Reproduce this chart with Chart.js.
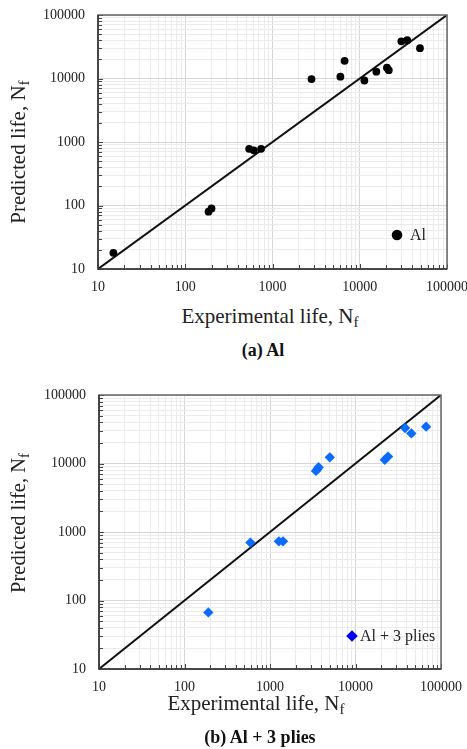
<!DOCTYPE html>
<html>
<head>
<meta charset="utf-8">
<script src="https://cdn.jsdelivr.net/npm/chart.js@4.4.1/dist/chart.umd.min.js"></script>
<style>
  body { margin: 0; background: #fff; }
  #wrap { position: relative; width: 467px; height: 749px; font-family: 'Liberation Serif', 'Times New Roman', serif; color: #222; }
  canvas { position: absolute; left: 0; }
  .lbl { position: absolute; white-space: nowrap; transform: translate(-50%, -50%); line-height: 1; }
  .lbl sub { font-size: 0.72em; vertical-align: -0.25em; }
  .rot { transform: translate(-50%, -50%) rotate(-90deg); }
  .cap { font-weight: bold; font-size: 18px; color: #111; }
</style>
</head>
<body>
<div id="wrap">
  <canvas id="chartA" width="467" height="300" style="top:0"></canvas>
  <canvas id="chartB" width="467" height="330" style="top:380px"></canvas>

  <div class="lbl rot" style="left:20px; top:152px; font-size:21px">Predicted life, N<sub>f</sub></div>
  <div class="lbl" style="left:270px; top:318px; font-size:21px">Experimental life, N<sub>f</sub></div>
  <div class="lbl cap" style="left:263px; top:350px">(a) Al</div>

  <div class="lbl rot" style="left:20px; top:523px; font-size:20.5px">Predicted life, N<sub>f</sub></div>
  <div class="lbl" style="left:256px; top:705px; font-size:21px">Experimental life, N<sub>f</sub></div>
  <div class="lbl cap" style="left:260px; top:737px">(b) Al + 3 plies</div>
</div>

<script>
// axis ticks (both axes, both plots)
const decades = [10, 100, 1000, 10000, 100000]
const tickLabels = ['10', '100', '1000', '10000', '100000']
const minorSteps = [2, 3, 4, 5, 6, 7, 8, 9]

// (a) Al
const expA = [15, 185, 200, 540, 610, 740, 2800, 6000, 6700, 11300, 15500, 20500, 21500, 30000, 35000, 49000]
const predA = [18, 80, 90, 780, 740, 780, 9800, 10700, 19000, 9300, 12800, 14800, 13500, 38500, 40000, 30000]

// (b) Al + 3 plies
const expB = [190, 590, 1270, 1420, 3450, 3600, 3700, 5000, 22000, 24000, 38000, 45000, 67000]
const predB = [67, 700, 730, 730, 7800, 8300, 8800, 12300, 11300, 12600, 33000, 27500, 34500]

// 1:1 reference line
const lineX = [10, 100000]

const gridValues = []
decades.forEach((d, i) => {
    gridValues.push(d)
    if (i < decades.length - 1) minorSteps.forEach(k => gridValues.push(d * k))
})

const serif = 'Liberation Serif'

// frame, inward tick marks and the in-plot legend
const framePlugin = {
    id: 'frame',
    afterDraw(chart, args, opts) {
        const { ctx, chartArea: a, scales } = chart
        ctx.save()
        ctx.strokeStyle = '#444'
        ctx.lineWidth = 1
        ctx.beginPath()
        gridValues.forEach(v => {
            const len = decades.includes(v) ? 5 : 4
            const x = Math.round(scales.x.getPixelForValue(v)) + 0.5
            ctx.moveTo(x, a.bottom)
            ctx.lineTo(x, a.bottom - len)
            const y = Math.round(scales.y.getPixelForValue(v)) + 0.5
            ctx.moveTo(a.left, y)
            ctx.lineTo(a.left + len, y)
        })
        ctx.stroke()

        ctx.strokeStyle = '#666'
        ctx.lineWidth = 1.5
        ctx.strokeRect(a.left, a.top, a.right - a.left, a.bottom - a.top)
        ctx.strokeStyle = '#333'
        ctx.beginPath()
        ctx.moveTo(a.left, a.top)
        ctx.lineTo(a.left, a.bottom)
        ctx.lineTo(a.right, a.bottom)
        ctx.stroke()

        // legend entry
        const ds = chart.data.datasets[0]
        const mx = a.right - opts.dx
        const my = a.bottom - opts.dy
        const r = opts.size
        ctx.fillStyle = opts.markerColor
        ctx.beginPath()
        if (ds.pointStyle === 'rectRot') {
            ctx.moveTo(mx, my - r)
            ctx.lineTo(mx + r, my)
            ctx.lineTo(mx, my + r)
            ctx.lineTo(mx - r, my)
            ctx.closePath()
        } else {
            ctx.arc(mx, my, r, 0, Math.PI * 2)
        }
        ctx.fill()
        ctx.fillStyle = '#222'
        ctx.font = '16px ' + serif
        ctx.textBaseline = 'middle'
        ctx.fillText(ds.label, mx + opts.textGap, my + 1)
        ctx.restore()
    }
}

function logAxis(afterFit, pad) {
    return {
        type: 'logarithmic',
        min: 10,
        max: 100000,
        afterBuildTicks: s => { s.ticks = gridValues.map(v => ({ value: v })) },
        afterFit: afterFit,
        ticks: {
            autoSkip: false,
            maxRotation: 0,
            padding: pad,
            color: '#222',
            font: { family: serif, size: 14 },
            callback: v => {
                const i = decades.indexOf(v)
                return i >= 0 ? tickLabels[i] : ''
            }
        },
        grid: {
            drawTicks: false,
            lineWidth: 1,
            color: c => decades.includes(c.tick.value) ? '#d6d6d6' : '#ebebeb'
        },
        border: { display: false }
    }
}

function makeChart(id, xs, ys, label, point, area, legend) {
    const canvas = document.getElementById(id)
    return new Chart(canvas.getContext('2d'), {
        type: 'scatter',
        data: {
            datasets: [{
                label: label,
                data: xs.map((x, i) => ({ x: x, y: ys[i] })),
                pointStyle: point.style,
                pointRadius: point.radius,
                pointHoverRadius: point.radius,
                backgroundColor: point.color,
                borderColor: point.color,
                borderWidth: 0
            }, {
                label: '1:1',
                data: lineX.map(v => ({ x: v, y: v })),
                showLine: true,
                pointRadius: 0,
                borderColor: '#111',
                borderWidth: 2
            }]
        },
        options: {
            responsive: false,
            animation: false,
            devicePixelRatio: 1,
            layout: { padding: { left: 0, top: area.top, right: canvas.width - area.right, bottom: 0 } },
            scales: {
                x: logAxis(s => {
                    s.height = canvas.height - area.bottom
                    s.paddingLeft = 0
                    s.paddingRight = 0
                }, 10),
                y: logAxis(s => {
                    s.width = area.left
                    s.paddingTop = 0
                    s.paddingBottom = 0
                }, 13)
            },
            plugins: {
                legend: { display: false },
                tooltip: { enabled: false },
                frame: legend
            }
        },
        plugins: [framePlugin]
    })
}

makeChart('chartA', expA, predA, 'Al',
    { style: 'circle', radius: 3.9, color: '#000' },
    { left: 98, top: 15, right: 447, bottom: 269 },
    { dx: 50, dy: 34, size: 5.3, textGap: 13, markerColor: '#000' })

makeChart('chartB', expB, predB, 'Al + 3 plies',
    { style: 'rectRot', radius: 5.2, color: '#0a6cff' },
    { left: 99, top: 15, right: 441, bottom: 289 },
    { dx: 89, dy: 33, size: 5.8, textGap: 8, markerColor: '#0000ee' })
</script>
</body>
</html>
